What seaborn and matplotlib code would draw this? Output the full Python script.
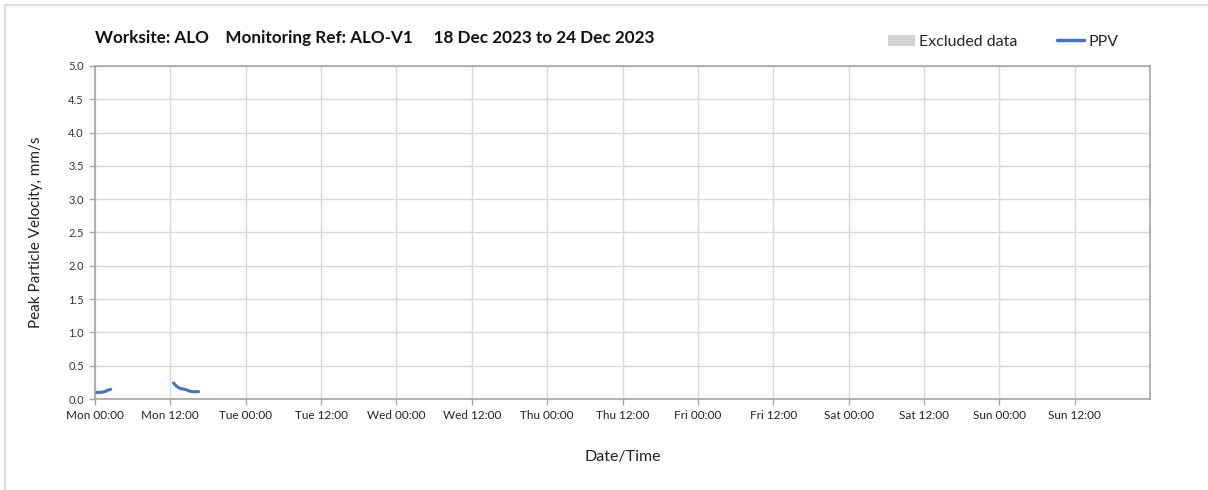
import matplotlib
matplotlib.use("Agg")
import matplotlib.pyplot as plt
import matplotlib.dates as mdates
from matplotlib.patches import Patch
from matplotlib.lines import Line2D
import seaborn as sns
import pandas as pd

# ---- data ----
seg1_times = ["2023-12-18 00:00", "2023-12-18 00:30", "2023-12-18 01:00",
              "2023-12-18 01:30", "2023-12-18 02:00", "2023-12-18 02:30"]
seg1_ppv = [0.10, 0.10, 0.10, 0.11, 0.13, 0.145]
seg2_times = ["2023-12-18 12:30", "2023-12-18 13:00", "2023-12-18 13:30",
              "2023-12-18 14:00", "2023-12-18 14:30", "2023-12-18 15:00",
              "2023-12-18 15:30", "2023-12-18 16:00", "2023-12-18 16:30"]
seg2_ppv = [0.24, 0.19, 0.16, 0.15, 0.14, 0.12, 0.11, 0.11, 0.11]
title_text = "Worksite: ALO    Monitoring Ref: ALO-V1     18 Dec 2023 to 24 Dec 2023"
y_ticks = [0.0, 0.5, 1.0, 1.5, 2.0, 2.5, 3.0, 3.5, 4.0, 4.5, 5.0]

df = pd.DataFrame({
    "time": pd.to_datetime(seg1_times + seg2_times),
    "ppv": seg1_ppv + seg2_ppv,
    "seg": [1] * len(seg1_times) + [2] * len(seg2_times),
})

sns.set_theme(style="white")
plt.rcParams["font.family"] = ["Lato", "DejaVu Sans"]

fig = plt.figure(figsize=(12.08, 4.90), dpi=100)
ax = fig.add_axes([95 / 1208, 1 - 399 / 490, (1150 - 95) / 1208, (399 - 66) / 490])

line_color = "#4472C4"
sns.lineplot(data=df, x="time", y="ppv", units="seg", estimator=None,
             color=line_color, linewidth=2.2, ax=ax, legend=False)

start = pd.Timestamp("2023-12-18 00:00")
end = pd.Timestamp("2023-12-25 00:00")
ax.set_xlim(start, end)
ax.set_ylim(0, 5)
ax.set_yticks(y_ticks)
ax.set_yticklabels([f"{v:.1f}" for v in y_ticks], fontsize=8, color="#333333")
ax.xaxis.set_major_locator(mdates.HourLocator(byhour=[0, 12]))
ax.xaxis.set_major_formatter(mdates.DateFormatter("%a %H:%M"))
ticks = ax.get_xticks()
ax.set_xticks(ticks[:-1])
for lbl in ax.get_xticklabels():
    lbl.set_fontsize(8.5)
    lbl.set_color("#222222")

ax.grid(True, color="#d9d9d9", linewidth=1.0)
ax.set_axisbelow(True)
for s in ax.spines.values():
    s.set_color("#a6a6a6")
    s.set_linewidth(1.2)
ax.tick_params(axis="both", which="major", length=4, width=1, color="#a6a6a6",
               direction="out", bottom=True, left=True, pad=4)

ax.set_xlabel("Date/Time", fontsize=11.5, color="#222222", labelpad=21)
ax.set_ylabel("Peak Particle Velocity, mm/s", fontsize=11, color="#222222", labelpad=18)

fig.text(95 / 1208, 1 - 38 / 490, title_text, fontsize=12.3, fontweight="bold",
         va="center", ha="left", color="#111111")

handles = [Patch(facecolor="#d3d3d3", edgecolor="none", label="Excluded data"),
           Line2D([0], [0], color=line_color, linewidth=2.5, label="PPV")]
fig.legend(handles=handles, loc="center", bbox_to_anchor=(1003 / 1208, 1 - 42 / 490),
           ncol=2, frameon=False, fontsize=11.5, handlelength=1.7, handletextpad=0.25,
           columnspacing=2.5)

# page border (top and left)
fig.add_artist(Line2D([5 / 1208, 1], [1 - 5 / 490, 1 - 5 / 490], color="#d9d9d9",
                      linewidth=1.2, transform=fig.transFigure))
fig.add_artist(Line2D([5 / 1208, 5 / 1208], [0, 1 - 5 / 490], color="#d9d9d9",
                      linewidth=1.2, transform=fig.transFigure))

fig.savefig("out.png", dpi=100)
